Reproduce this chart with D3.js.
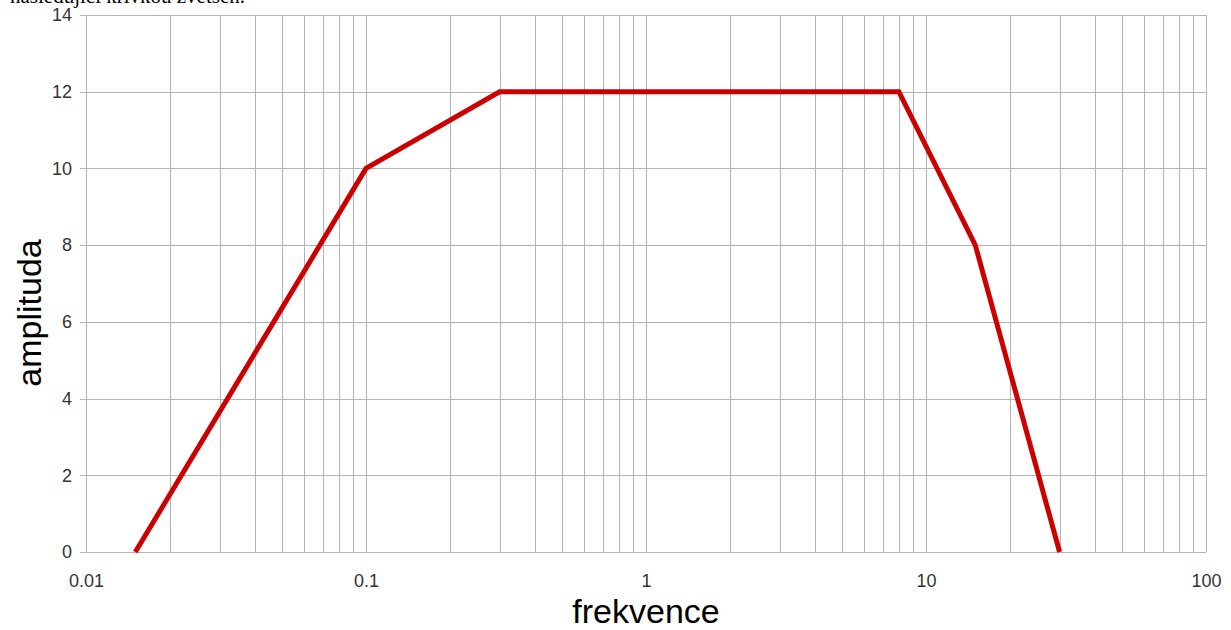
<!DOCTYPE html>
<html><head><meta charset="utf-8">
<script src="https://cdn.jsdelivr.net/npm/d3@7"></script>
<style>
html,body{margin:0;padding:0;background:#fff;}
svg{display:block;}
</style></head>
<body>
<svg id="c" width="1231" height="630"></svg>
<script>
const freq = [0.015, 0.1, 0.3, 8, 15, 30];
const amp  = [0, 10, 12, 12, 8, 0];
const yTicks = [0, 2, 4, 6, 8, 10, 12, 14];
const xTicks = [0.01, 0.1, 1, 10, 100];
const xTickLabels = ["0.01", "0.1", "1", "10", "100"];
const xTitle = "frekvence";
const yTitle = "amplituda";
const caption = "následující křivkou zvětšen.";

const svg = d3.select("#c");
const L = 86, R = 1206, T = 15, B = 552;
const x = d3.scaleLog().domain([0.01, 100]).range([L, R]);
const y = d3.scaleLinear().domain([0, 14]).range([B, T]);
const grid = "#b4b4b4";

// cut-off caption text at top
svg.append("text").attr("x", 10).attr("y", 3)
  .attr("font-family", "Liberation Serif, Times New Roman, serif")
  .attr("font-size", 21).attr("fill", "#000").text(caption);

// vertical grid (major + minor)
const vLines = [];
for (let e = -2; e < 2; e++) {
  for (let m = 1; m <= 9; m++) vLines.push(m * Math.pow(10, e));
}
vLines.push(100);
svg.append("g").selectAll("line").data(vLines).join("line")
  .attr("x1", d => Math.round(x(d)) + 0.5).attr("x2", d => Math.round(x(d)) + 0.5)
  .attr("y1", T).attr("y2", B)
  .attr("stroke", grid).attr("stroke-width", 1);

// horizontal grid
svg.append("g").selectAll("line").data(yTicks).join("line")
  .attr("x1", L - 6).attr("x2", R)
  .attr("y1", d => Math.round(y(d)) + 0.5).attr("y2", d => Math.round(y(d)) + 0.5)
  .attr("stroke", grid).attr("stroke-width", 1);

// y axis labels
const yAxis = d3.axisLeft(y).tickValues(yTicks).tickSize(0).tickPadding(14).tickFormat(d3.format("d"));
const gy = svg.append("g").attr("transform", `translate(${L},0)`).call(yAxis);
gy.select(".domain").remove();
gy.selectAll("text").attr("font-family", "Liberation Sans, Arial, sans-serif")
  .attr("font-size", 18).attr("fill", "#333");

// x axis labels
const xAxis = d3.axisBottom(x).tickValues(xTicks).tickSize(0).tickPadding(22)
  .tickFormat((d, i) => xTickLabels[i]);
const gx = svg.append("g").attr("transform", `translate(0,${B})`).call(xAxis);
gx.select(".domain").remove();
gx.selectAll("text").attr("font-family", "Liberation Sans, Arial, sans-serif")
  .attr("font-size", 18).attr("fill", "#333");

// data line
const line = d3.line().x((d, i) => x(freq[i])).y(d => y(d));
svg.append("path").datum(amp).attr("d", line)
  .attr("fill", "none").attr("stroke", "#cc0000").attr("stroke-width", 5)
  .attr("stroke-linejoin", "miter");

// axis titles
svg.append("text").attr("x", (L + R) / 2).attr("y", 623).attr("text-anchor", "middle")
  .attr("font-family", "Liberation Sans, Arial, sans-serif").attr("font-size", 34)
  .attr("fill", "#000").text(xTitle);
svg.append("text").attr("transform", "translate(41,313) rotate(-90)").attr("text-anchor", "middle")
  .attr("font-family", "Liberation Sans, Arial, sans-serif").attr("font-size", 34)
  .attr("fill", "#000").text(yTitle);
</script>
</body></html>
